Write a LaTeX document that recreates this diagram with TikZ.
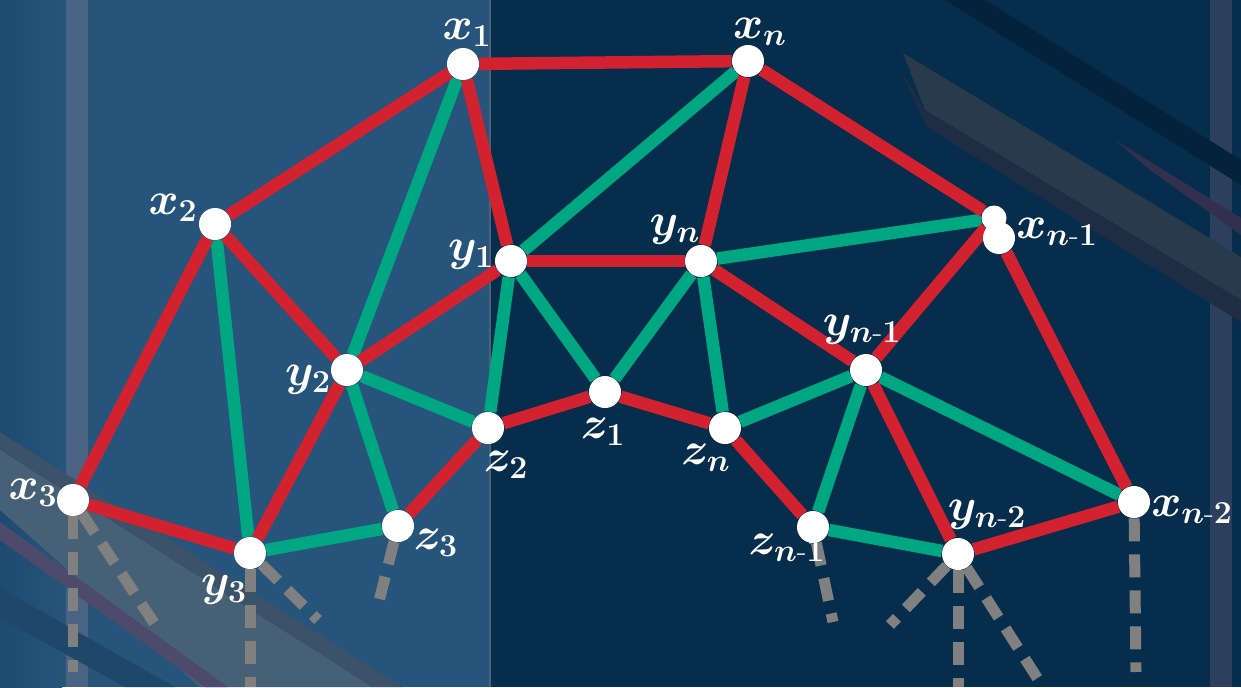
\RequirePackage{fix-cm}
\documentclass[tikz,border=0pt]{standalone}
\usepackage{amsmath}
\definecolor{navy}{HTML}{062D4B}
\definecolor{panel}{HTML}{26547A}
\definecolor{paneldark}{HTML}{1C4A70}
\definecolor{bandblue}{HTML}{4A6383}
\definecolor{bandright}{HTML}{2C3F5C}
\definecolor{panelline}{HTML}{4C6078}
\definecolor{stripeedge}{HTML}{3C5268}
\definecolor{stripegray}{HTML}{466176}
\definecolor{stripeplum}{HTML}{4D4A6C}
\definecolor{stripedeep}{HTML}{1F4769}
\definecolor{barlight}{HTML}{273B4C}
\definecolor{bardark}{HTML}{1E2D44}
\definecolor{barnavy}{HTML}{03223B}
\definecolor{barplum}{HTML}{33304F}
\definecolor{netred}{HTML}{D3222F}
\definecolor{netgreen}{HTML}{00A783}
\definecolor{tailgray}{HTML}{808080}
\pgfdeclarelayer{bg}
\pgfdeclarelayer{edges}
\pgfsetlayers{bg,edges,main}
\tikzset{
  vtx/.style={circle,fill=white,inner sep=0pt,minimum size=0.64cm},
  lbl/.style={text=white,inner sep=0pt,font=\fontsize{26}{30}\selectfont\boldmath},
  redline/.style={netred,line width=0.25cm},
  greenline/.style={netgreen,line width=0.25cm},
  tail/.style={tailgray,line width=0.22cm,dash pattern=on 0.46cm off 0.26cm},
}
\begin{document}
\begin{tikzpicture}[x=0.02cm,y=-0.02cm]
    \useasboundingbox (0,0) rectangle (1241,687);
    % fondo: paneles y franjas
    \begin{pgfonlayer}{bg}
        \fill[navy] (0,0) rectangle (1241,687);
        \fill[panel] (0,0) rectangle (490,687);
        \shade[left color=paneldark,right color=panel] (0,0) rectangle (62,687);
        \fill[bandblue] (66,0) rectangle (88,687);
        \fill[bandright] (1210,0) rectangle (1232,687);
        \draw[panelline,line width=0.8pt] (490,0) -- (490,687);
        \fill[stripeedge] (0,432) -- (402,687) -- (372,687) -- (0,450) -- cycle;
        \fill[stripegray] (0,450) -- (372,687) -- (200,687) -- (0,510) -- cycle;
        \fill[stripeplum] (0,522) -- (228,687) -- (205,687) -- (0,540) -- cycle;
        \fill[stripedeep] (0,588) -- (175,687) -- (125,687) -- (0,618) -- cycle;
        \fill[barnavy] (945,0) -- (985,0) -- (1241,160) -- (1241,185) -- cycle;
        \fill[barlight] (903,53) -- (1241,257) -- (1241,300) -- (925,110) -- cycle;
        \fill[bardark] (900,70) -- (925,110) -- (1241,300) -- (1241,322) -- (927,127) -- cycle;
        \fill[barplum] (1115,140) -- (1241,218) -- (1241,235) -- (1150,170) -- cycle;
    \end{pgfonlayer}
    % vertices
    \node[vtx] (x1) at (463,64) {};
    \node[vtx] (xn) at (748,61) {};
    \node[vtx] (x2) at (215,224) {};
    \node[vtx] (y1) at (511,261) {};
    \node[vtx] (yn) at (701,261) {};
    \node[vtx,minimum size=0.5cm] (xn1b) at (994,218) {};
    \node[vtx] (xn1) at (999,238) {};
    \node[vtx] (y2) at (347,370) {};
    \node[vtx] (z2) at (488,428) {};
    \node[vtx] (z1) at (605,392) {};
    \node[vtx] (zn) at (725,428) {};
    \node[vtx] (yn1) at (866,370) {};
    \node[vtx] (x3) at (73,500) {};
    \node[vtx] (y3) at (250,553) {};
    \node[vtx] (z3) at (398,526) {};
    \node[vtx] (zn1) at (813,527) {};
    \node[vtx] (yn2) at (958,554) {};
    \node[vtx] (xn2) at (1134,502) {};
    % etiquetas
    \node[lbl] (lx1) at (467,33) {$x_1$};
    \node[lbl] (lxn) at (760,32) {$x_n$};
    \node[lbl] (lx2) at (173,208) {$x_2$};
    \node[lbl] (ly1) at (471,255) {$y_1$};
    \node[lbl] (lyn) at (675,230) {$y_n$};
    \node[lbl] (lxn1) at (1057,232) {$x_{n\text{-}1}$};
    \node[lbl] (ly2) at (308,380) {$y_2$};
    \node[lbl] (lz2) at (506,465) {$z_2$};
    \node[lbl] (lz1) at (603,432) {$z_1$};
    \node[lbl] (lzn) at (706,458) {$z_n$};
    \node[lbl] (lyn1) at (862,330) {$y_{n\text{-}1}$};
    \node[lbl] (lx3) at (33,493) {$x_3$};
    \node[lbl] (ly3) at (224,590) {$y_3$};
    \node[lbl] (lz3) at (436,543) {$z_3$};
    \node[lbl] (lzn1) at (787,548) {$z_{n\text{-}1}$};
    \node[lbl] (lyn2) at (987,515) {$y_{n\text{-}2}$};
    \node[lbl] (lxn2) at (1192,510) {$x_{n\text{-}2}$};
    % colas punteadas
    \coordinate (tx3a) at (73,672);
    \coordinate (tx3b) at (160,632);
    \coordinate (ty3a) at (250,687);
    \coordinate (ty3b) at (318,620);
    \coordinate (tz3) at (378,605);
    \coordinate (tzn1) at (833,622);
    \coordinate (tyn2a) at (890,625);
    \coordinate (tyn2b) at (958,687);
    \coordinate (tyn2c) at (1043,687);
    \coordinate (txn2) at (1136,672);
    \begin{pgfonlayer}{edges}
        \foreach \a/\b in {x3/tx3a,x3/tx3b,y3/ty3a,y3/ty3b,z3/tz3,zn1/tzn1,yn2/tyn2a,yn2/tyn2b,yn2/tyn2c,xn2/txn2}
            \draw[tail] (\a) -- (\b);
        \foreach \a/\b in {x1/y2,x2/y3,y2/z2,y2/z3,y3/z3,y1/xn,y1/z2,y1/z1,yn/z1,yn/zn,yn/xn1b,zn/yn1,yn1/zn1,yn1/xn2,zn1/yn2}
            \draw[greenline] (\a) -- (\b);
        \foreach \a/\b in {x1/xn,x1/x2,x1/y1,x2/x3,x2/y2,y2/y1,y1/yn,xn/yn,xn/xn1b,x3/y3,y3/y2,z3/z2,z2/z1,z1/zn,zn/zn1,yn/yn1,yn1/xn1b,xn1/xn2,yn1/yn2,yn2/xn2}
            \draw[redline] (\a) -- (\b);
    \end{pgfonlayer}
\end{tikzpicture}
\end{document}
